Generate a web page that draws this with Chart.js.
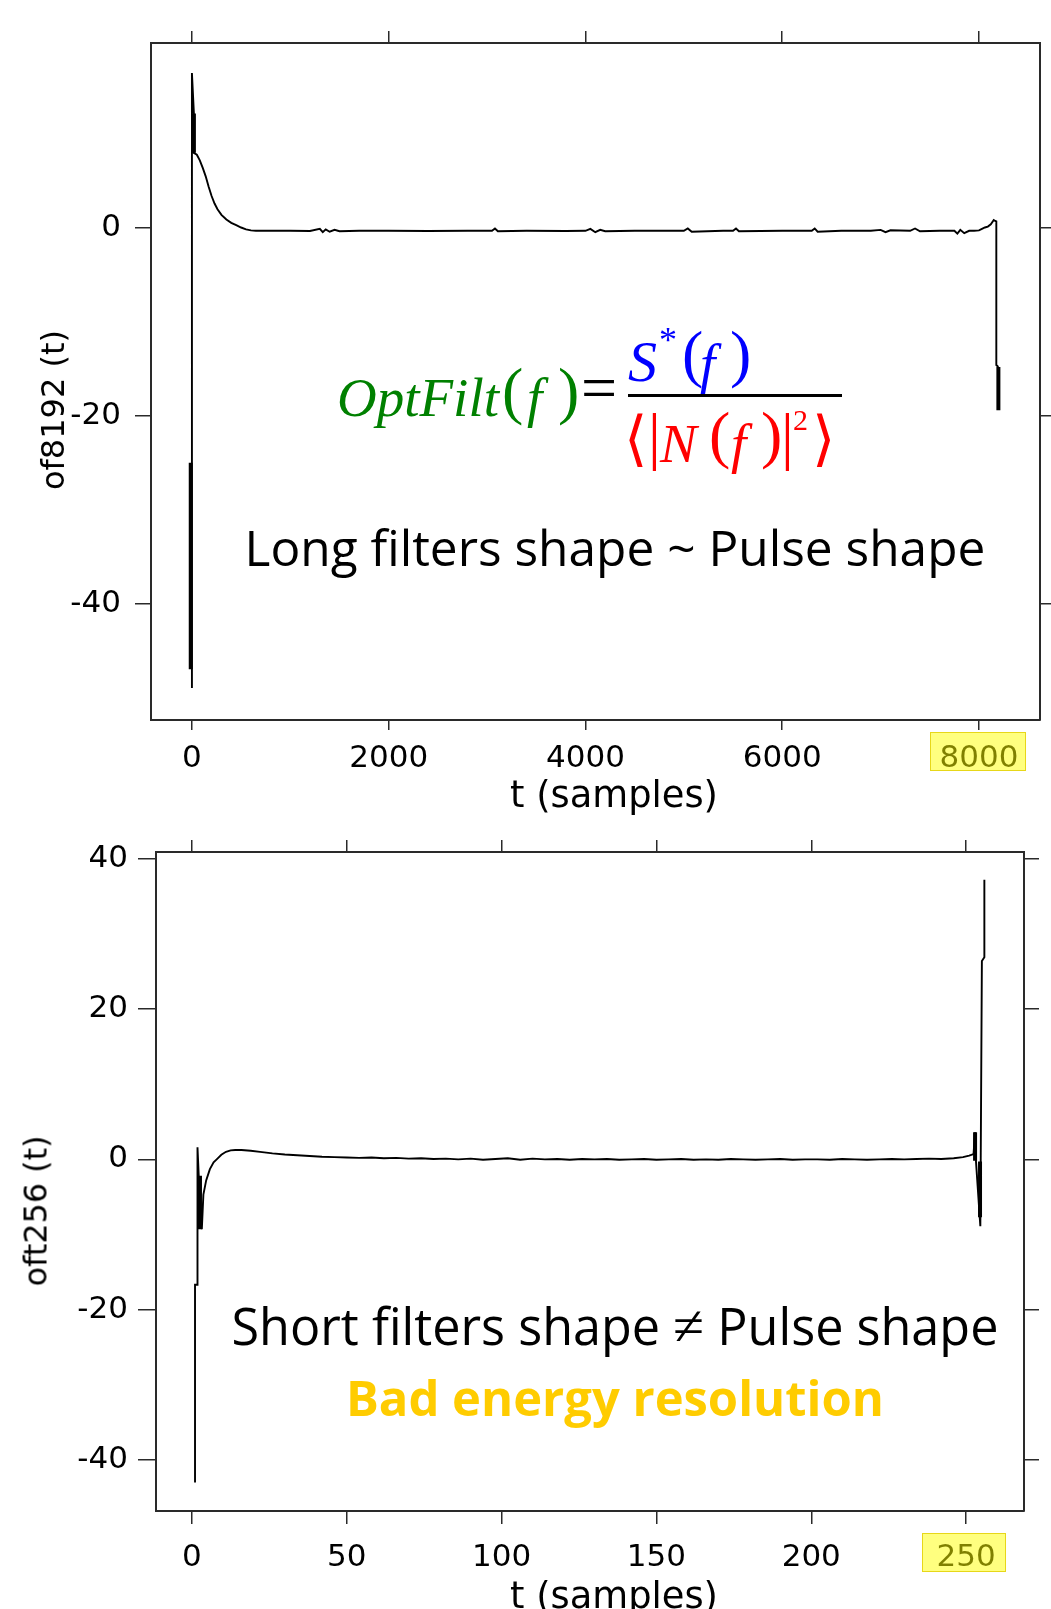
<!DOCTYPE html>
<html>
<head>
<meta charset="utf-8">
<script src="https://cdn.jsdelivr.net/npm/chart.js@4.4.1/dist/chart.umd.min.js"></script>
<style>
  body { margin: 0; background: #fff; }
  #page { position: relative; width: 1051px; height: 1609px; overflow: hidden; background: #fff; }
  canvas { position: absolute; left: 0; }
  .txt { position: absolute; white-space: nowrap; line-height: 1; }
  .hl { position: absolute; background: rgba(255, 255, 0, 0.5); border: 1px solid rgba(225, 205, 0, 0.8); box-sizing: border-box; z-index: 5; }
  .ne { font-family: "Liberation Serif", serif; font-size: 1.12em; }
</style>
</head>
<body>
<div id="page">
  <canvas id="topChart" width="1051" height="800" style="top:0"></canvas>
  <canvas id="bottomChart" width="1051" height="809" style="top:800px"></canvas>
</div>
<script>
// ---- of8192 (long filter) ----
const t8192 = [0, 0, 20, 20, 50, 80, 110, 140, 170, 200, 230, 260, 300, 350, 400, 450, 500, 550, 600, 650,
  800, 1000, 1200, 1300, 1330, 1360, 1400, 1450, 1500, 1700, 2000, 2400, 2800, 3050, 3080, 3110, 3400, 3800,
  4000, 4050, 4100, 4150, 4200, 4500, 4800, 5000, 5040, 5080, 5400, 5500, 5530, 5560, 6000, 6300, 6330, 6360,
  6600, 6900, 7000, 7050, 7100, 7300, 7350, 7400, 7600, 7750, 7780, 7810, 7850, 7900, 7950, 8000, 8030, 8060,
  8090, 8120, 8150, 8165, 8176, 8176, 8197];
const v8192 = [-49, 16.5, 12.2, 8.0, 7.8, 7.2, 6.4, 5.5, 4.4, 3.4, 2.6, 2.0, 1.4, 0.9, 0.55, 0.3, 0.05, -0.15, -0.25, -0.3,
  -0.3, -0.3, -0.32, -0.1, -0.45, -0.15, -0.4, -0.2, -0.35, -0.3, -0.3, -0.32, -0.3, -0.3, -0.05, -0.35, -0.3, -0.32,
  -0.3, -0.1, -0.45, -0.2, -0.35, -0.3, -0.3, -0.3, -0.05, -0.4, -0.3, -0.3, -0.05, -0.35, -0.3, -0.3, -0.05, -0.4,
  -0.3, -0.3, -0.2, -0.45, -0.25, -0.3, -0.05, -0.35, -0.3, -0.3, -0.6, -0.2, -0.55, -0.3, -0.3, -0.25, -0.1, 0.05,
  0.15, 0.4, 0.85, 0.75, 0.7, -14.6, -14.8];
// fast oscillation bursts (drawn thick)
const burst8192T = [-12, -12, -12, 20, 20, 20, 8197, 8197];
const burst8192V = [-25, -47, null, 12.2, 8.0, null, -14.8, -19.4];
const xTicks8192 = [0, 2000, 4000, 6000, 8000];
const yTicks8192 = [-40, -20, 0];

// ---- oft256 (short filter) ----
const t256 = [1, 1, 1.8, 1.8, 2.2, 3.2, 3.7, 4.6, 5.8, 7, 8, 9.5, 11, 12.5, 14, 16, 19, 22, 26, 30,
  34, 38, 42, 46, 50, 54, 58, 62, 66, 70, 74, 78, 82, 86, 90, 94, 98, 102, 106, 110,
  114, 118, 122, 126, 130, 134, 138, 142, 146, 150, 154, 158, 162, 166, 170, 174, 178, 182, 186, 190,
  194, 198, 202, 206, 210, 214, 218, 222, 226, 230, 234, 238, 242, 246, 249, 251, 252.4, 252.9, 253.2, 254.6,
  255.1, 255.9, 255.9];
const v256 = [-43, -16.7, -16.7, 1.6, -2.2, -9.3, -4.7, -2.8, -1.3, -0.4, 0, 0.6, 1.0, 1.2, 1.25, 1.25, 1.15, 1.0, 0.8, 0.65,
  0.55, 0.45, 0.35, 0.3, 0.25, 0.2, 0.25, 0.15, 0.2, 0.1, 0.15, 0.05, 0.1, 0.0, 0.1, -0.05, 0.05, 0.15, -0.05, 0.1,
  0.0, 0.05, -0.05, 0.05, 0.0, 0.05, -0.05, 0.0, 0.05, -0.05, 0.0, 0.05, -0.05, 0.0, -0.05, 0.05, 0.0, -0.05, 0.0, 0.05,
  -0.05, 0.0, 0.0, -0.05, 0.05, 0.0, -0.05, 0.0, 0.05, 0.0, 0.05, 0.1, 0.05, 0.15, 0.3, 0.5, 0.7, 3.6, -0.3, -8.9,
  26.4, 26.9, 37.2];
const burst256T = [2.6, 2.6, 2.6, 252.9, 252.9, 252.9, 254.5, 254.5];
const burst256V = [-2.2, -9.3, null, 3.6, -0.2, null, -0.3, -7.7];
const xTicks256 = [0, 50, 100, 150, 200, 250];
const yTicks256 = [-40, -20, 0, 20, 40];

const INK = '#2a2a2a';
const page = document.getElementById('page');

function pts(xs, ys) {
  return xs.map((x, i) => ({ x: x, y: ys[i] }));
}

function fixTicks(values) {
  return scale => { scale.ticks = values.map(value => ({ value })); };
}

function axis(position, ticks, size, tickLen, pad, showLabels) {
  const horizontal = position === 'top' || position === 'bottom';
  return {
    type: 'linear',
    position: position,
    afterBuildTicks: fixTicks(ticks),
    afterFit: s => { if (horizontal) s.height = size; else s.width = size; },
    grid: { drawOnChartArea: false, drawTicks: true, tickLength: tickLen, color: INK, lineWidth: 1.5 },
    border: { display: true, color: INK, width: 2 },
    ticks: {
      display: showLabels,
      color: '#000',
      padding: pad,
      maxRotation: 0,
      autoSkip: false,
      font: { family: 'DejaVu Sans', size: 31 },
      callback: v => String(v)
    }
  };
}

function makeChart(id, o) {
  const scales = {
    x: Object.assign(axis('bottom', o.xTicks, o.box.bottom, o.tl.bottom, o.pad.x, true), { min: o.xMin, max: o.xMax }),
    x2: Object.assign(axis('top', o.xTicks, o.box.top, o.tl.top, 0, false), { min: o.xMin, max: o.xMax }),
    y: Object.assign(axis('left', o.yTicks, o.box.left, o.tl.left, o.pad.y, true), { min: o.yMin, max: o.yMax }),
    y2: Object.assign(axis('right', o.yTicks, o.box.right, o.tl.right, 0, false), { min: o.yMin, max: o.yMax })
  };
  return new Chart(document.getElementById(id), {
    type: 'line',
    data: {
      datasets: [
        { data: pts(o.t, o.v), borderColor: '#000', borderWidth: 1.9, pointRadius: 0, tension: 0 },
        { data: pts(o.bt, o.bv), borderColor: '#000', borderWidth: 4, pointRadius: 0, tension: 0, spanGaps: false }
      ]
    },
    options: {
      responsive: false,
      animation: false,
      devicePixelRatio: 1,
      events: [],
      layout: { padding: 0 },
      plugins: { legend: { display: false }, tooltip: { enabled: false } },
      scales: scales
    }
  });
}

makeChart('topChart', {
  t: t8192, v: v8192, bt: burst8192T, bv: burst8192V,
  xTicks: xTicks8192, yTicks: yTicks8192,
  xMin: -416, xMax: 8620, yMin: -52.4, yMax: 19.7,
  box: { left: 151, right: 11, top: 43, bottom: 80 },
  tl: { left: 16, right: 12, top: 12, bottom: 10 },
  pad: { x: 10, y: 14 }
});

makeChart('bottomChart', {
  t: t256, v: v256, bt: burst256T, bv: burst256V,
  xTicks: xTicks256, yTicks: yTicks256,
  xMin: -11.6, xMax: 268.7, yMin: -46.8, yMax: 40.9,
  box: { left: 156, right: 27, top: 52, bottom: 98 },
  tl: { left: 18, right: 15, top: 12, bottom: 13 },
  pad: { x: 15, y: 10 }
});

// ---- text overlays ----
function text(str, cx, cy, style, fitWidth, rotate, html) {
  const el = document.createElement('div');
  el.className = 'txt';
  if (html) el.innerHTML = str; else el.textContent = str;
  Object.assign(el.style, style);
  page.appendChild(el);
  if (fitWidth) {
    const w = el.getBoundingClientRect().width;
    el.style.fontSize = (parseFloat(style.fontSize) * fitWidth / w) + 'px';
  }
  const w = el.offsetWidth, h = el.offsetHeight;
  el.style.left = (cx - w / 2) + 'px';
  el.style.top = (cy - h / 2) + 'px';
  if (rotate) el.style.transform = 'rotate(-90deg)';
  return el;
}

// glyph placed by left edge and baseline (Liberation Serif metrics)
function glyph(str, left, baseline, size, color, italic, family) {
  const el = document.createElement('div');
  el.className = 'txt';
  el.textContent = str;
  el.style.fontFamily = family || '"Liberation Serif", serif';
  el.style.fontSize = size + 'px';
  el.style.color = color;
  el.style.fontStyle = italic ? 'italic' : 'normal';
  el.style.left = left + 'px';
  el.style.top = (baseline - 0.8375 * size) + 'px';
  page.appendChild(el);
  return el;
}

const sans = { fontFamily: '"DejaVu Sans", sans-serif', fontSize: '31px', color: '#000' };
text('t (samples)', 614, 795, sans, 208);
text('t (samples)', 614, 1596, sans, 208);
text('of8192 (t)', 53, 410, sans, 160, true);
text('oft256 (t)', 36, 1211, sans, 151, true);

const note = { fontFamily: '"Open Sans", sans-serif', fontSize: '48px', color: '#000' };
text('Long filters shape ~ Pulse shape', 615, 548, note, 741);
text('Short filters shape <span class="ne">\u2260</span> Pulse shape', 615, 1326, note, 767, false, true);
text('Bad energy resolution', 615, 1397,
  { fontFamily: '"Open Sans", sans-serif', fontSize: '48px', fontWeight: '700', color: '#ffcc00' }, 538);

// formula
const GREEN = '#008000', BLUE = '#0000ff', RED = '#ff0000';
glyph('OptFilt', 337, 416, 55, GREEN, true);
glyph('(', 502, 413, 64, GREEN, false);
glyph('f', 527, 416, 55, GREEN, true);
glyph(')', 558, 413, 64, GREEN, false);
glyph('=', 581, 410, 64, '#000', false);

glyph('S', 628, 382, 58, BLUE, true);
glyph('*', 659, 352, 36, BLUE, false);
glyph('(', 682, 376, 64, BLUE, false);
glyph('f', 700, 382, 55, BLUE, true);
glyph(')', 730, 376, 64, BLUE, false);

const bar = document.createElement('div');
Object.assign(bar.style, { position: 'absolute', left: '628px', top: '394px', width: '214px', height: '3px', background: '#000' });
page.appendChild(bar);

glyph('\u27E8', 624, 458, 60, RED, false, '"DejaVu Sans", sans-serif');
glyph('|', 648, 458, 64, RED, false);
glyph('N', 660, 462, 55, RED, true);
glyph('(', 709, 457, 64, RED, false);
glyph('f', 731, 462, 55, RED, true);
glyph(')', 761, 457, 64, RED, false);
glyph('|', 781, 458, 64, RED, false);
glyph('2', 793, 430, 30, RED, false);
glyph('\u27E9', 812, 458, 60, RED, false, '"DejaVu Sans", sans-serif');

// highlight boxes over the last tick labels
function highlight(l, t, r, b) {
  const el = document.createElement('div');
  el.className = 'hl';
  Object.assign(el.style, { left: l + 'px', top: t + 'px', width: (r - l) + 'px', height: (b - t) + 'px' });
  page.appendChild(el);
}
highlight(930, 732, 1026, 771);
highlight(922, 1533, 1006, 1572);
</script>
</body>
</html>
